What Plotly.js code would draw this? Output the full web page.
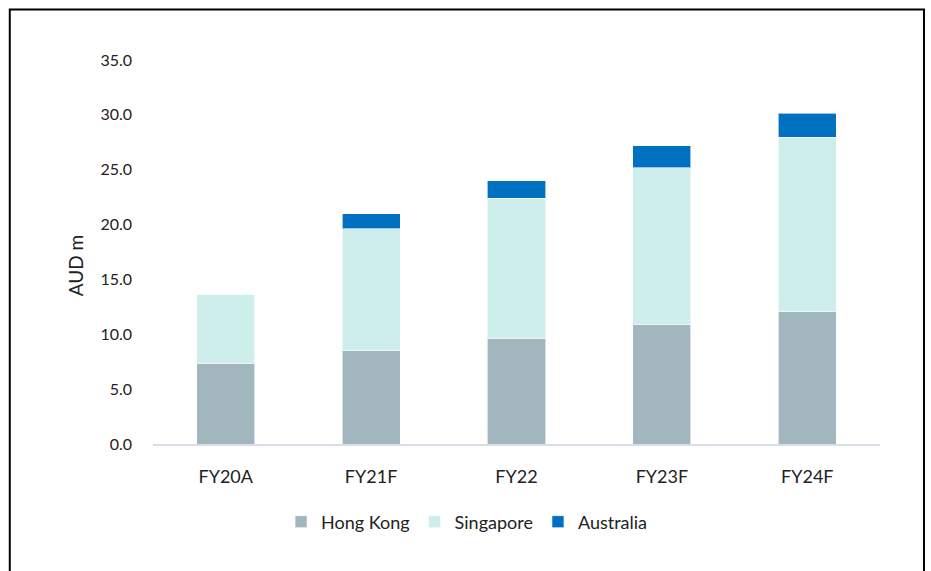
<!DOCTYPE html>
<html>
<head>
<meta charset="utf-8">
<script src="https://cdn.plot.ly/plotly-3.0.1.min.js"></script>
<style>html,body{margin:0;padding:0;background:#fff;}#chart{width:931px;height:571px;}</style>
</head>
<body>
<div id="chart"></div>
<script>
const categories = ["FY20A", "FY21F", "FY22", "FY23F", "FY24F"];
const hongKong = [7.35, 8.5, 9.65, 10.9, 12.05];
const singapore = [6.3, 11.1, 12.75, 14.3, 15.9];
const australia = [0, 1.4, 1.6, 2.0, 2.2];
const yTicks = [0, 5, 10, 15, 20, 25, 30, 35];
const yTitle = "AUD m";

const FONT = "Lato, 'Open Sans', sans-serif";
const mk = (name, y, color) => ({
  type: "bar", name: name, x: categories, y: y,
  marker: {color: color, line: {color: "rgba(255,255,255,0.6)", width: 1}},
  hoverinfo: "skip"
});

const data = [
  mk("Hong Kong", hongKong, "#A2B6BE"),
  mk("Singapore", singapore, "#CDEEEB"),
  mk("Australia", australia, "#0070C0")
];

const layout = {
  width: 931, height: 571,
  margin: {l: 153, r: 51, t: 60, b: 127},
  paper_bgcolor: "#fff", plot_bgcolor: "#fff",
  barmode: "stack", bargap: 0.6,
  font: {family: FONT, color: "#222", size: 15},
  xaxis: {
    showgrid: false, zeroline: false,
    showline: true, linecolor: "#D6DFE8", linewidth: 2,
    ticks: "", ticklabelstandoff: 15,
    tickfont: {size: 18, family: FONT, color: "#222"}
  },
  yaxis: {
    range: [0, 35], tickvals: yTicks, tickformat: ".1f",
    showgrid: false, zeroline: false, showline: false,
    ticks: "", ticklabelstandoff: 20,
    tickfont: {size: 16, family: FONT, color: "#222"}
  },
  annotations: [{
    text: yTitle, xref: "paper", yref: "paper", x: -0.107, y: 0.4635,
    xanchor: "center", yanchor: "middle", textangle: -90, showarrow: false,
    font: {size: 19, family: FONT, color: "#222"}
  }],
  legend: {
    orientation: "h", x: 0.432, xanchor: "center", y: -0.203, yanchor: "middle",
    font: {size: 18, family: FONT, color: "#222"},
    itemwidth: 30, tracegroupgap: 0, traceorder: "normal"
  },
  shapes: [{
    type: "rect", xref: "paper", yref: "paper",
    x0: -0.197, x1: 1.0605, y0: -0.345, y1: 1.1315,
    line: {color: "#000", width: 2}, fillcolor: "rgba(0,0,0,0)", layer: "below"
  }]
};

Plotly.newPlot("chart", data, layout, {displayModeBar: false, staticPlot: true});
</script>
</body>
</html>
